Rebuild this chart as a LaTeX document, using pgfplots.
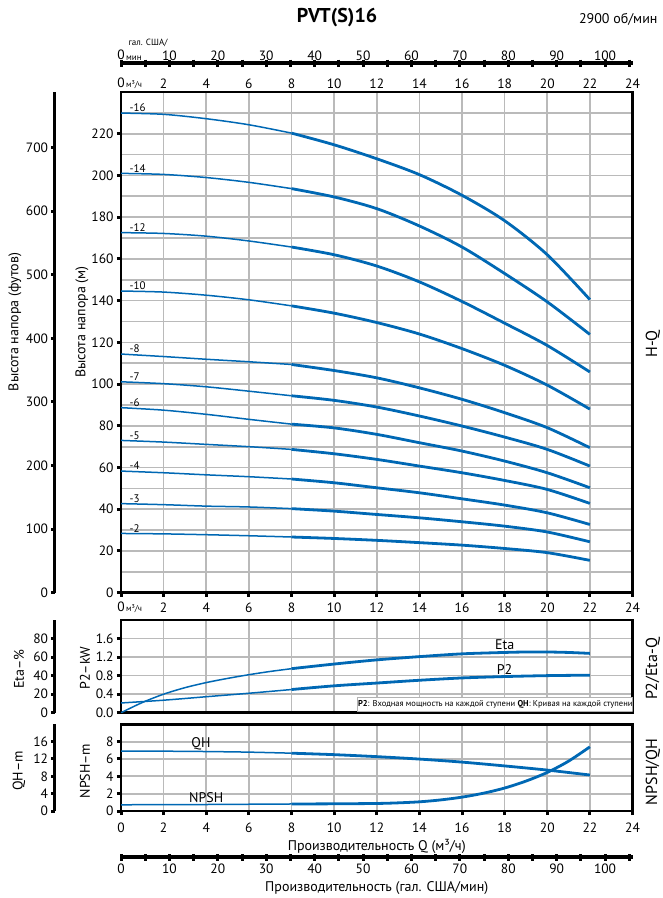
\documentclass[border=0pt]{standalone}
\usepackage{fontspec}
\setmainfont{PT Sans}
\usepackage{pgfplots}
\pgfplotsset{compat=1.18}
\definecolor{cblue}{RGB}{0,104,180}
\newcommand{\fs}[1]{\fontsize{#1}{#1}\selectfont}
\tikzset{
  thinc/.style={cblue, line width=1.5pt, smooth},
  thickc/.style={cblue, line width=2.8pt, smooth},
  clab/.style={anchor=south west, inner sep=1pt, font=\fs{11}},
}
\pgfplotsset{
  panel/.style={scale only axis, width=511.5pt, xmin=0, xmax=24,
    tick label style={font=\fs{13.5}},
    xmajorgrids=true, ymajorgrids=true,
    major grid style={color=black!27, line width=1.7pt},
    minor grid style={color=black!27, line width=1.7pt},
    axis line style={line width=2.5pt, black},
    major tick style={color=black, line width=3pt},
    tick align=outside, major tick length=4pt,
    xtick={0,2,...,24}, tick pos=left,
    /pgf/number format/assume math mode=true},
  sideax/.style={scale only axis, width=5pt, xmin=0, xmax=1, axis x line=none,
    axis y line*=left, y axis line style={line width=3pt, black},
    tick align=outside, major tick length=3.5pt, ytick style={line width=3pt, black},
    yticklabel style={font=\fs{13.5}}, /pgf/number format/assume math mode=true},
  galax/.style={scale only axis, width=511.5pt, height=5pt, xmin=0, xmax=105.669, ymin=0, ymax=1,
    axis y line=none, x axis line style={line width=4pt, black},
    xtick={0,10,...,100}, minor xtick={5,15,...,105}, tick align=center,
    major tick length=7pt, minor tick length=7pt, tick style={black, line width=3pt},
    xticklabel style={font=\fs{13.5}}, /pgf/number format/assume math mode=true},
}
\begin{document}
\begin{tikzpicture}[x=1pt,y=1pt]
\path[use as bounding box] (0,0) rectangle (663,-898);

% ---------- left auxiliary axes ----------
\begin{axis}[sideax, at={(55pt,-592.7pt)}, anchor=south west, height=500.7pt, ymin=0, ymax=787.4, ytick={0,100,...,700}]
\end{axis}
\begin{axis}[sideax, at={(55pt,-712.7pt)}, anchor=south west, height=92.7pt, ymin=0, ymax=100, ytick={0,20,...,80}]
\end{axis}
\begin{axis}[sideax, at={(55pt,-811pt)}, anchor=south west, height=86.7pt, ymin=0, ymax=20, ytick={0,4,...,16}]
\end{axis}

% ---------- gallon axes ----------
\begin{axis}[galax, at={(121pt,-63pt)}, anchor=north west, axis x line*=top,
  xticklabel style={yshift=-4.5pt},
  xticklabels={0\rlap{\fs{9}\,\raisebox{-1pt}{мин}},10,20,30,40,50,60,70,80,90,100}]
\end{axis}
\begin{axis}[galax, at={(121pt,-857pt)}, anchor=south west, axis x line*=bottom]
\end{axis}

% ---------- H-Q ----------
\begin{axis}[panel, at={(121pt,-592.7pt)}, anchor=south west, height=500.7pt,
  ymin=0, ymax=240, ytick={0,20,...,220}, minor ytick={10,30,...,230}, yminorgrids=true,
  minor tick length=0pt,
  xticklabel pos=right, xticklabel style={yshift=-4pt},
  xticklabels={0\rlap{\fs{8.5}\,м³/ч},2,4,6,8,10,12,14,16,18,20,22,24}]
% -16
\addplot[thinc] coordinates {(0,229.9)(2,229.3)(4,227.2)(6,224.3)(8,220.3)};
\addplot[thickc] coordinates {(8,220.3)(10,214.7)(12,208)(14,200.4)(16,190.5)(18,178.3)(20,162)(22,140.5)};
% -14
\addplot[thinc] coordinates {(0,201)(2,200.5)(4,199)(6,196.7)(8,193.7)};
\addplot[thickc] coordinates {(8,193.7)(10,189.7)(12,184.1)(14,175.8)(16,165.7)(18,153)(20,139.4)(22,123.8)};
% -12
\addplot[thinc] coordinates {(0,172.6)(2,172.2)(4,170.9)(6,168.6)(8,165.7)};
\addplot[thickc] coordinates {(8,165.7)(10,162)(12,156.6)(14,149)(16,139.6)(18,129.2)(20,118.5)(22,105.8)};
% -10
\addplot[thinc] coordinates {(0,144.6)(2,144.1)(4,142.6)(6,140.4)(8,137.5)};
\addplot[thickc] coordinates {(8,137.5)(10,134)(12,129.5)(14,124)(16,117)(18,109)(20,99.5)(22,88)};
% -8
\addplot[thinc] coordinates {(0,114.4)(2,113.2)(4,111.9)(6,110.7)(8,109.4)};
\addplot[thickc] coordinates {(8,109.4)(10,106.5)(12,103)(14,98.2)(16,92.7)(18,86.3)(20,79.1)(22,69.5)};
% -7
\addplot[thinc] coordinates {(0,101.1)(2,100.2)(4,98.7)(6,96.6)(8,94.4)};
\addplot[thickc] coordinates {(8,94.4)(10,92.2)(12,89)(14,84.7)(16,79.9)(18,74.6)(20,68.7)(22,60.7)};
% -6
\addplot[thinc] coordinates {(0,88.7)(2,87.5)(4,85.5)(6,83.1)(8,80.8)};
\addplot[thickc] coordinates {(8,80.8)(10,79)(12,75.9)(14,71.9)(16,67.9)(18,63.1)(20,57.5)(22,50.3)};
% -5
\addplot[thinc] coordinates {(0,73)(2,72.2)(4,71.1)(6,70)(8,68.7)};
\addplot[thickc] coordinates {(8,68.7)(10,66.6)(12,63.9)(14,60.7)(16,57.5)(18,53.8)(20,49.5)(22,42.8)};
% -4
\addplot[thinc] coordinates {(0,58.3)(2,57.5)(4,56.5)(6,55.6)(8,54.5)};
\addplot[thickc] coordinates {(8,54.5)(10,52.7)(12,50.3)(14,47.9)(16,45)(18,42)(20,38.3)(22,32.7)};
% -3
\addplot[thinc] coordinates {(0,42.7)(2,42.2)(4,41.5)(6,41.1)(8,40.3)};
\addplot[thickc] coordinates {(8,40.3)(10,39.1)(12,37.5)(14,35.9)(16,34)(18,31.9)(20,29.1)(22,24.4)};
% -2
\addplot[thinc] coordinates {(0,28.4)(2,28.2)(4,27.8)(6,27.3)(8,26.7)};
\addplot[thickc] coordinates {(8,26.7)(10,26)(12,25.1)(14,24)(16,22.8)(18,21.2)(20,19.2)(22,15.5)};
\node[clab] at (axis cs:0.35,229.9) {-16};
\node[clab] at (axis cs:0.35,201) {-14};
\node[clab] at (axis cs:0.35,172.6) {-12};
\node[clab] at (axis cs:0.35,144.6) {-10};
\node[clab] at (axis cs:0.35,114.4) {-8};
\node[clab] at (axis cs:0.35,101.1) {-7};
\node[clab] at (axis cs:0.35,88.7) {-6};
\node[clab] at (axis cs:0.35,73) {-5};
\node[clab] at (axis cs:0.35,58.3) {-4};
\node[clab] at (axis cs:0.35,42.7) {-3};
\node[clab] at (axis cs:0.35,28.4) {-2};
\end{axis}

% ---------- P2 / Eta ----------
\begin{axis}[panel, at={(121pt,-712.7pt)}, anchor=south west, height=92.7pt,
  ymin=0, ymax=2, ytick={0,0.4,...,1.6},
  yticklabel style={/pgf/number format/.cd, fixed, fixed zerofill, precision=1},
  xticklabel pos=right, xtick style={draw=none},
  xticklabels={0\rlap{\fs{8.5}\,м³/ч},2,4,6,8,10,12,14,16,18,20,22,24}]
\addplot[thinc] coordinates {(0,0)(1,0.22)(2,0.40)(3,0.54)(4,0.65)(5,0.74)(6,0.82)(7,0.89)(8,0.95)};
\addplot[thickc] coordinates {(8,0.95)(10,1.05)(12,1.14)(14,1.21)(16,1.27)(18,1.30)(19,1.31)(20,1.31)(21,1.30)(22,1.28)};
\addplot[thinc] coordinates {(0,0.21)(2,0.27)(4,0.345)(6,0.42)(8,0.50)};
\addplot[thickc] coordinates {(8,0.50)(10,0.58)(12,0.64)(14,0.70)(16,0.75)(18,0.78)(20,0.80)(22,0.81)};
\node[font=\fs{14}] at (axis cs:18,1.47) {Eta};
\node[font=\fs{14}] at (axis cs:18,0.93) {P2};
\node[anchor=south east, fill=white, draw=gray!60, line width=0.5pt, minimum width=276pt,
  minimum height=14pt, inner sep=1pt, font=\fs{8.5}, xshift=1.25pt, yshift=1.25pt]
  at (rel axis cs:1,0) {\textbf{P2}: Входная мощность на каждой ступени \textbf{QH}: Кривая на каждой ступени};
\end{axis}

% ---------- NPSH / QH ----------
\begin{axis}[panel, at={(121pt,-811pt)}, anchor=south west, height=86.7pt,
  ymin=0, ymax=10, ytick={0,2,...,8}, xticklabel style={yshift=-4pt}]
\addplot[thinc] coordinates {(0,6.92)(2,6.9)(4,6.86)(6,6.79)(8,6.67)};
\addplot[thickc] coordinates {(8,6.67)(10,6.5)(12,6.27)(14,5.99)(16,5.64)(18,5.2)(20,4.72)(22,4.15)};
\addplot[thinc] coordinates {(0,0.72)(2,0.73)(4,0.75)(6,0.78)(8,0.81)};
\addplot[thickc] coordinates {(8,0.81)(10,0.83)(12,0.87)(13,0.94)(14,1.06)(15,1.28)(16,1.6)(17,2.05)(18,2.65)(19,3.45)(20,4.45)(21,5.75)(22,7.4)};
\node[font=\fs{14}] at (axis cs:3.75,7.75) {QH};
\node[font=\fs{14}] at (axis cs:4.0,1.6) {NPSH};
\end{axis}

% ---------- texts ----------
\node[font=\bfseries\fs{20}] at (337,-17.5) {PVT(S)16};
\node[anchor=east, font=\fs{14}] at (661,-19) {2900 об/мин};
\node[anchor=west, font=\fs{9}] at (125,-43) {гал. США/};
\node[rotate=90, font=\fs{14}] at (15,-322) {Высота напора (футов)};
\node[rotate=90, font=\fs{14}] at (82,-322) {Высота напора (м)};
\node[rotate=90, font=\fs{14}] at (19,-669) {Eta–\%};
\node[rotate=90, font=\fs{14}] at (85,-668) {P2–kW};
\node[rotate=90, font=\fs{14}] at (19,-771) {QH–m};
\node[rotate=90, font=\fs{14}] at (85,-771) {NPSH–m};
\node[rotate=90, font=\fs{16}] at (653,-344) {H-Q};
\node[rotate=90, font=\fs{16}] at (653,-669) {P2/Eta-Q};
\node[rotate=90, font=\fs{16}] at (653,-772) {NPSH/QH};
\node[font=\fs{14}] at (376.75,-846.5) {Производительность Q (м³/ч)};
\node[font=\fs{14}] at (376.75,-888) {Производительность (гал. США/мин)};
\end{tikzpicture}
\end{document}
